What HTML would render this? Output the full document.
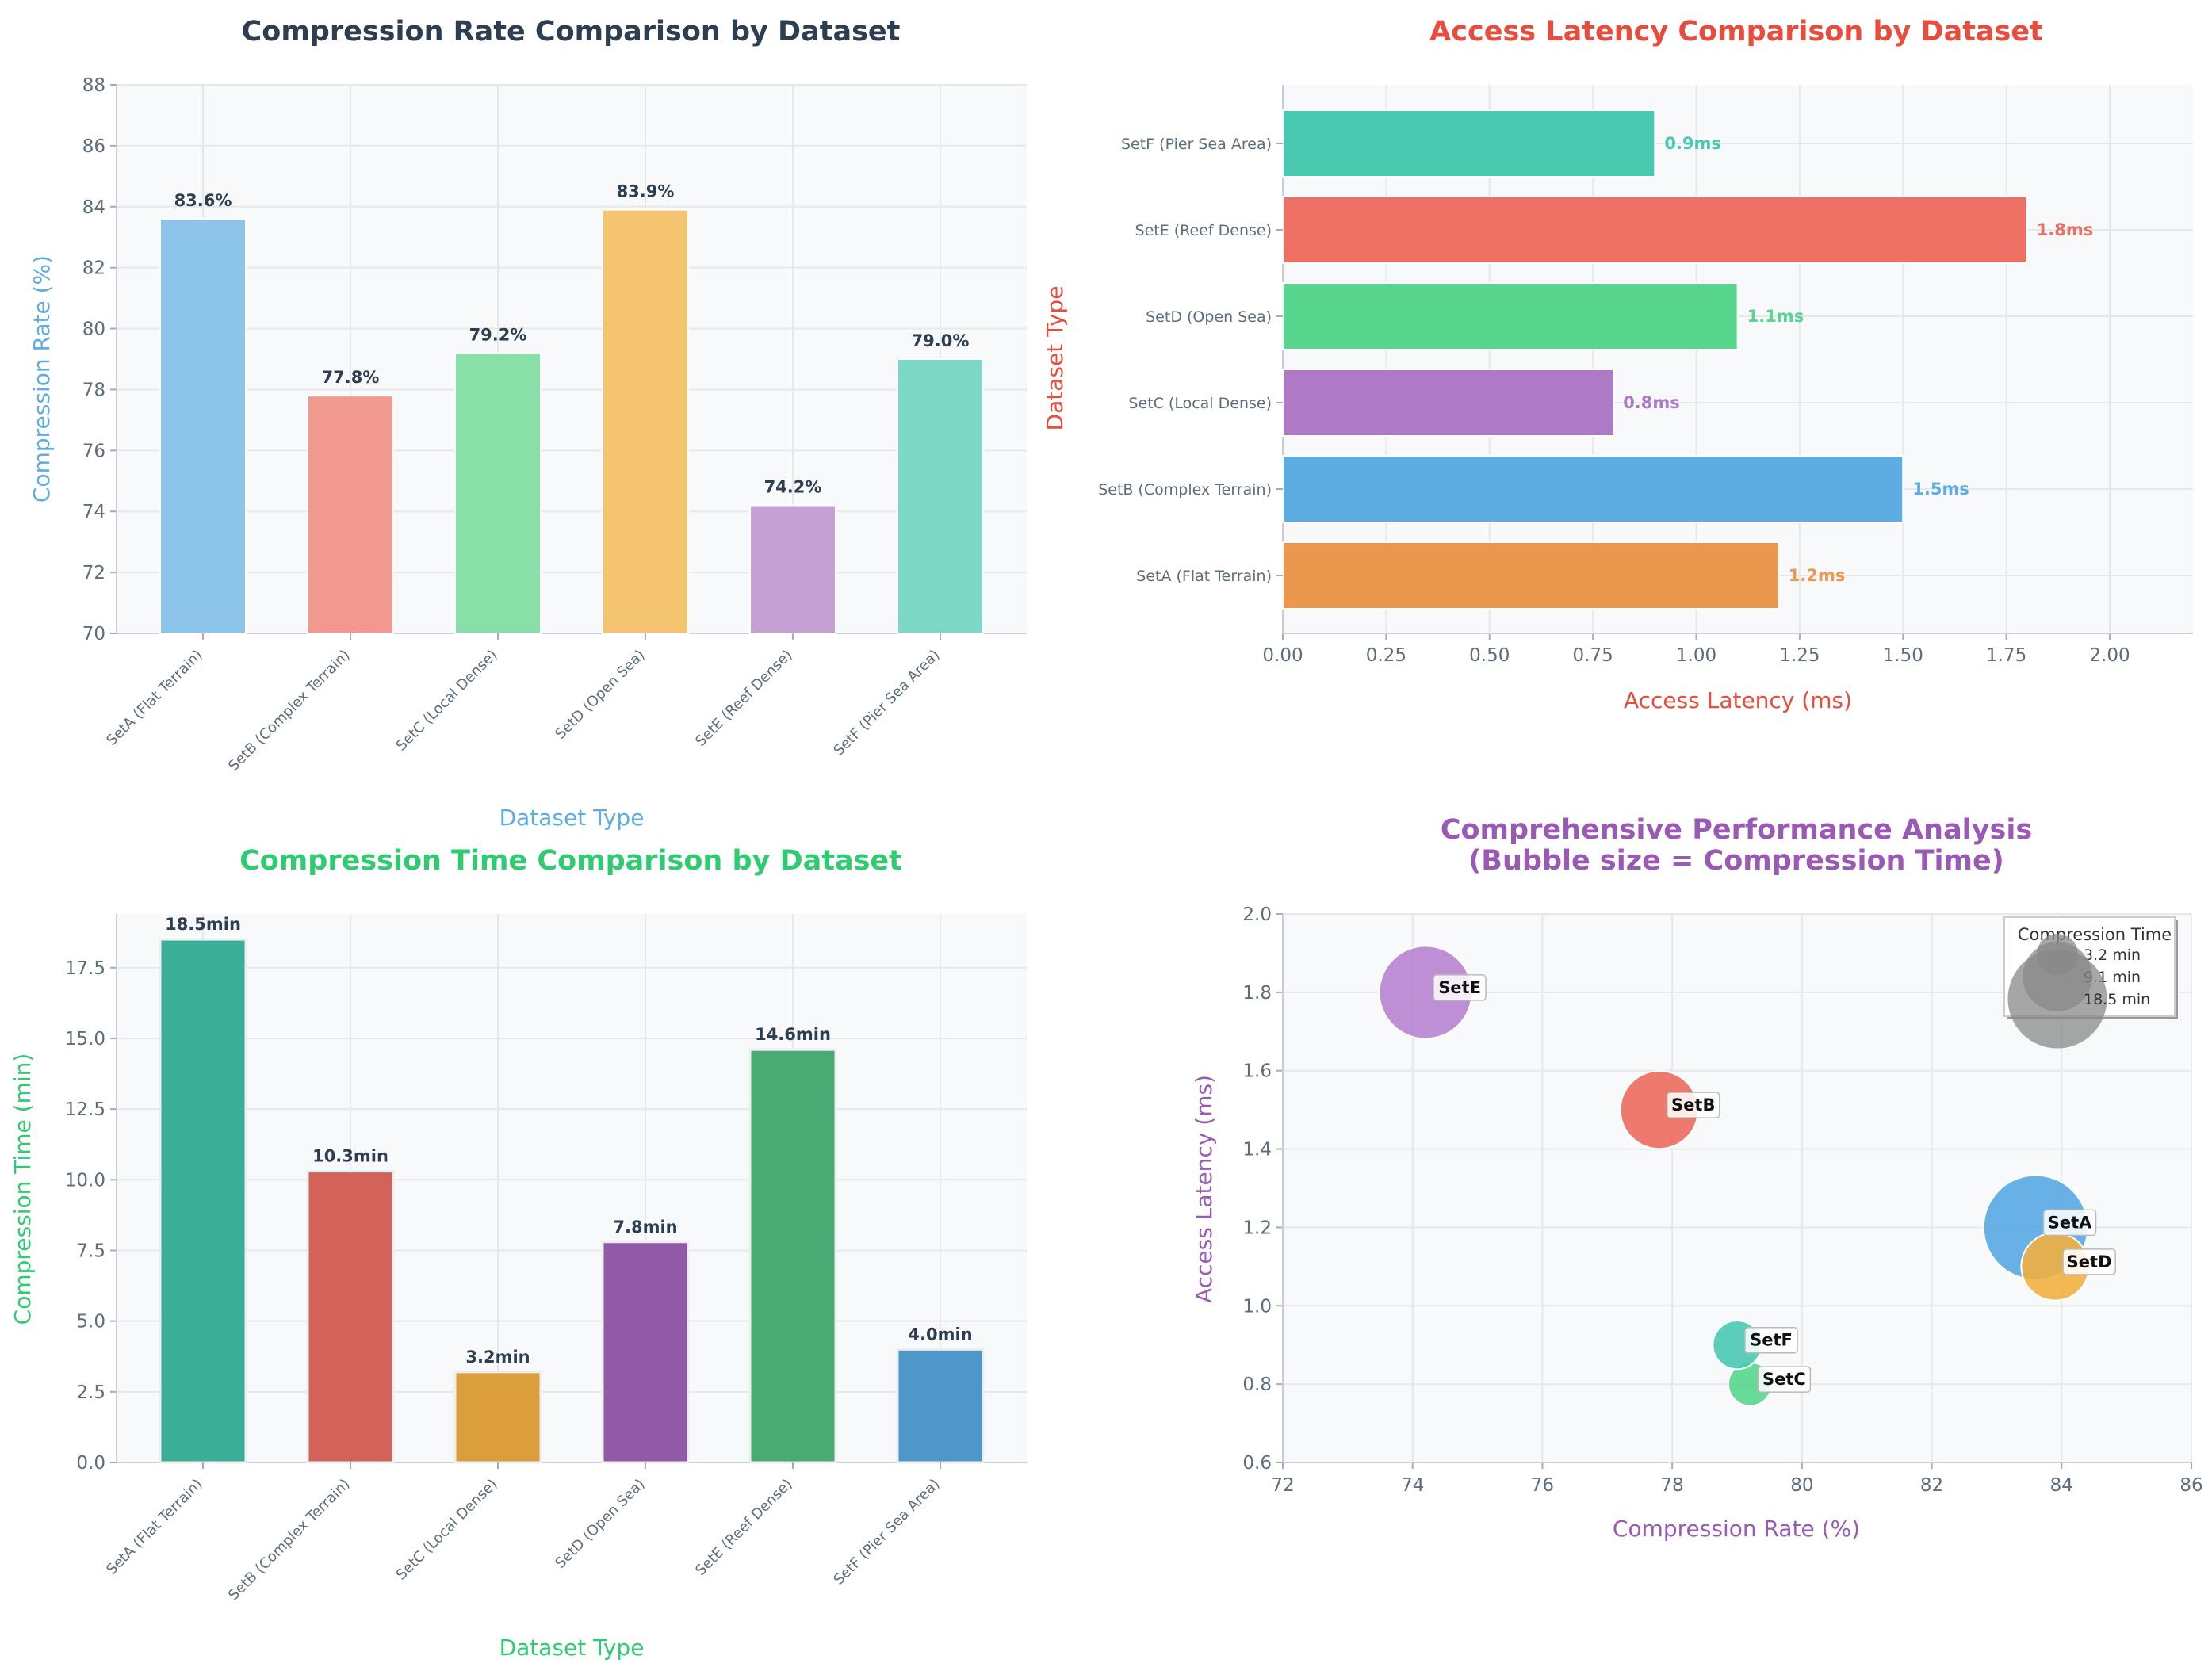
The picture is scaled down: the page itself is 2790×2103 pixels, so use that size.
<!DOCTYPE html>
<html><head><meta charset="utf-8">
<style>
html,body{margin:0;padding:0;background:#fff;}
svg{display:block;font-family:"DejaVu Sans","Liberation Sans",sans-serif;}
</style></head>
<body>
<svg id="fig" width="2790" height="2103" viewBox="0 0 2790 2103" xmlns="http://www.w3.org/2000/svg"></svg>
<script>
// ---- data ----
const categories = ["SetA (Flat Terrain)","SetB (Complex Terrain)","SetC (Local Dense)","SetD (Open Sea)","SetE (Reef Dense)","SetF (Pier Sea Area)"];
const shortNames = ["SetA","SetB","SetC","SetD","SetE","SetF"];
const compressionRate = [83.6, 77.8, 79.2, 83.9, 74.2, 79.0];
const accessLatency = [1.2, 1.5, 0.8, 1.1, 1.8, 0.9];
const compressionTime = [18.5, 10.3, 3.2, 7.8, 14.6, 4.0];
const rateTicks = [70,72,74,76,78,80,82,84,86,88];
const latencyTicks = [0,0.25,0.5,0.75,1.0,1.25,1.5,1.75,2.0];
const timeTicks = [0,2.5,5,7.5,10,12.5,15,17.5];
const scatterXTicks = [72,74,76,78,80,82,84,86];
const scatterYTicks = [0.6,0.8,1.0,1.2,1.4,1.6,1.8,2.0];
const legendTimes = [3.2, 9.1, 18.5];

const colRate = ["#8cc4ea","#f1998f","#88e0a8","#f5c471","#c5a0d5","#7dd8c5"];
const colLat = ["#eb984e","#5dade2","#af7ac5","#58d68d","#ec7063","#48c9b0"];
const colTime = ["#3aae96","#d3625a","#dc9e3a","#9259a8","#4aaa73","#4f97c9"];
const colBub = ["#56a8e3","#ec6a5c","#58d68d","#f0b040","#b783cf","#48c9b0"];

const svg = document.getElementById('fig');
const NS = "http://www.w3.org/2000/svg";
function el(tag, attrs, parent, text){
  const e = document.createElementNS(NS, tag);
  for (const k in attrs) e.setAttribute(k, attrs[k]);
  if (text !== undefined) e.textContent = text;
  (parent||svg).appendChild(e);
  return e;
}
const TICK = "#5d6d7e";
const catX = i => 256 + 186*i;

// ===== Chart 1: Compression Rate =====
(function(){
  const g = el('g', {});  
  const L=147,R=1295,T=107,B=799, ymin=70,ymax=88;
  const y = v => B - (v-ymin)/(ymax-ymin)*(B-T);
  const x = catX;
  const bg = el('rect',{x:L,y:T,width:R-L,height:B-T,fill:"#f8f9fa"},g);
   
  rateTicks.forEach(t=>{
    el('line',{x1:L,x2:R,y1:y(t),y2:y(t),stroke:"#e6e8ea","stroke-width":2},g);
    el('line',{x1:L-8,x2:L,y1:y(t),y2:y(t),stroke:"#aab",'stroke-width':2},g);
    const tl = el('text',{x:L-14,y:y(t)+8,'text-anchor':'end','font-size':23,fill:TICK},g,String(t));
     
  });
  categories.forEach((c,i)=>{
    el('line',{x1:x(i),x2:x(i),y1:T,y2:B,stroke:"#e6e8ea","stroke-width":2},g);
  });
  el('line',{x1:L,x2:L,y1:T,y2:B,stroke:"#ccd",'stroke-width':2},g);
  el('line',{x1:L,x2:R,y1:B,y2:B,stroke:"#ccd",'stroke-width':2},g);
  const bw=108;
  categories.forEach((c,i)=>{
    const b = el('rect',{x:x(i)-bw/2,y:y(compressionRate[i]),width:bw,height:B-y(compressionRate[i]),fill:colRate[i],stroke:"#fff","stroke-width":2},g);
     
    const v = el('text',{x:x(i),y:y(compressionRate[i])-16,'text-anchor':'middle','font-size':21,'font-weight':'bold',fill:"#2c3e50"},g,compressionRate[i].toFixed(1)+'%');
     
    el('line',{x1:x(i),x2:x(i),y1:B,y2:B+8,stroke:"#aab",'stroke-width':2},g);
    const tl = el('text',{x:x(i),y:B+28,'text-anchor':'end','font-size':18,fill:TICK,transform:`rotate(-45 ${x(i)} ${B+28})`},g,c);
     
  });
  const t = el('text',{x:720,y:51,'text-anchor':'middle','font-size':35,'font-weight':'bold',fill:"#2c3e50"},g,"Compression Rate Comparison by Dataset");
   
  const yl = el('text',{x:62,y:(T+B)/2+25,'text-anchor':'middle','font-size':28,fill:"#5dade2",transform:`rotate(-90 62 ${(T+B)/2+25})`},g,"Compression Rate (%)");
   
  const xl = el('text',{x:721,y:1041,'text-anchor':'middle','font-size':28,fill:"#5dade2"},g,"Dataset Type");
   
})();

// ===== Chart 2: Access Latency (horizontal) =====
(function(){
  const g = el('g', {});  
  const L=1618,R=2766,T=107,B=799, xmax=2.0;
  const x = v => L + v/xmax*(2661-L);
  const order=[5,4,3,2,1,0]; // top to bottom: SetF ... SetA
  const yc = k => 181 + 109*k;
  const bg = el('rect',{x:L,y:T,width:R-L,height:B-T,fill:"#f8f9fa"},g);
   
  latencyTicks.forEach(t=>{
    el('line',{x1:x(t),x2:x(t),y1:T,y2:B,stroke:"#e6e8ea","stroke-width":2},g);
    el('line',{x1:x(t),x2:x(t),y1:B,y2:B+8,stroke:"#aab",'stroke-width':2},g);
    const tl = el('text',{x:x(t),y:B+35,'text-anchor':'middle','font-size':23,fill:TICK},g,t.toFixed(2));
     
  });
  order.forEach((i,k)=>{ el('line',{x1:L,x2:R,y1:yc(k),y2:yc(k),stroke:"#e6e8ea","stroke-width":2},g); });
  el('line',{x1:L,x2:L,y1:T,y2:B,stroke:"#ccd",'stroke-width':2},g);
  el('line',{x1:L,x2:R,y1:B,y2:B,stroke:"#ccd",'stroke-width':2},g);
  const bh=84;
  order.forEach((i,k)=>{
    const b = el('rect',{x:L,y:yc(k)-bh/2,width:x(accessLatency[i])-L,height:bh,fill:colLat[i],stroke:"#fff","stroke-width":2},g);
     
    const v = el('text',{x:x(accessLatency[i])+12,y:yc(k)+7,'font-size':21,'font-weight':'bold',fill:colLat[i]},g,accessLatency[i].toFixed(1)+'ms');
     
    el('line',{x1:L-8,x2:L,y1:yc(k),y2:yc(k),stroke:"#aab",'stroke-width':2},g);
    const tl = el('text',{x:L-14,y:yc(k)+7,'text-anchor':'end','font-size':19,fill:TICK},g,categories[i]);
     
  });
  const t = el('text',{x:2190,y:51,'text-anchor':'middle','font-size':35,'font-weight':'bold',fill:"#e74c3c"},g,"Access Latency Comparison by Dataset");
   
  const yl = el('text',{x:1340,y:452,'text-anchor':'middle','font-size':28,fill:"#e74c3c",transform:`rotate(-90 1340 452)`},g,"Dataset Type");
   
  const xl = el('text',{x:2192,y:893,'text-anchor':'middle','font-size':28,fill:"#e74c3c"},g,"Access Latency (ms)");
   
})();

// ===== Chart 3: Compression Time =====
(function(){
  const g = el('g', {});  
  const L=147,R=1295,T=1153,B=1845, ymax=19.4;
  const y = v => B - v/ymax*(B-T);
  const x = catX;
  const bg = el('rect',{x:L,y:T,width:R-L,height:B-T,fill:"#f8f9fa"},g);
   
  timeTicks.forEach(t=>{
    el('line',{x1:L,x2:R,y1:y(t),y2:y(t),stroke:"#e6e8ea","stroke-width":2},g);
    el('line',{x1:L-8,x2:L,y1:y(t),y2:y(t),stroke:"#aab",'stroke-width':2},g);
    const tl = el('text',{x:L-14,y:y(t)+8,'text-anchor':'end','font-size':23,fill:TICK},g,t.toFixed(1));
     
  });
  categories.forEach((c,i)=>{ el('line',{x1:x(i),x2:x(i),y1:T,y2:B,stroke:"#e6e8ea","stroke-width":2},g); });
  el('line',{x1:L,x2:L,y1:T,y2:B,stroke:"#ccd",'stroke-width':2},g);
  el('line',{x1:L,x2:R,y1:B,y2:B,stroke:"#ccd",'stroke-width':2},g);
  const bw=108;
  categories.forEach((c,i)=>{
    const b = el('rect',{x:x(i)-bw/2,y:y(compressionTime[i]),width:bw,height:B-y(compressionTime[i]),fill:colTime[i],stroke:"#eee","stroke-width":3},g);
     
    const v = el('text',{x:x(i),y:y(compressionTime[i])-12,'text-anchor':'middle','font-size':21,'font-weight':'bold',fill:"#2c3e50"},g,compressionTime[i].toFixed(1)+'min');
     
    el('line',{x1:x(i),x2:x(i),y1:B,y2:B+8,stroke:"#aab",'stroke-width':2},g);
    const tl = el('text',{x:x(i),y:B+28,'text-anchor':'end','font-size':18,fill:TICK,transform:`rotate(-45 ${x(i)} ${B+28})`},g,c);
     
  });
  const t = el('text',{x:720,y:1097,'text-anchor':'middle','font-size':35,'font-weight':'bold',fill:"#2ecc71"},g,"Compression Time Comparison by Dataset");
   
  const yl = el('text',{x:38,y:1500,'text-anchor':'middle','font-size':28,fill:"#2ecc71",transform:`rotate(-90 38 1500)`},g,"Compression Time (min)");
   
  const xl = el('text',{x:721,y:2088,'text-anchor':'middle','font-size':28,fill:"#2ecc71"},g,"Dataset Type");
   
})();

// ===== Chart 4: Bubble =====
(function(){
  const g = el('g', {});  
  const L=1618,R=2764,T=1153,B=1845, xmin=72,xmax=86,ymin=0.6,ymax=2.0;
  const x = v => L + (v-xmin)/(xmax-xmin)*(R-L);
  const y = v => B - (v-ymin)/(ymax-ymin)*(B-T);
  const r = t => 15.3*Math.sqrt(t);
  const bg = el('rect',{x:L,y:T,width:R-L,height:B-T,fill:"#f8f9fa"},g);
   
  scatterXTicks.forEach(t=>{
    el('line',{x1:x(t),x2:x(t),y1:T,y2:B,stroke:"#e6e8ea","stroke-width":2},g);
    el('line',{x1:x(t),x2:x(t),y1:B,y2:B+8,stroke:"#aab",'stroke-width':2},g);
    const tl = el('text',{x:x(t),y:B+36,'text-anchor':'middle','font-size':23,fill:TICK},g,String(t));
     
  });
  scatterYTicks.forEach(t=>{
    el('line',{x1:L,x2:R,y1:y(t),y2:y(t),stroke:"#e6e8ea","stroke-width":2},g);
    el('line',{x1:L-8,x2:L,y1:y(t),y2:y(t),stroke:"#aab",'stroke-width':2},g);
    const tl = el('text',{x:L-14,y:y(t)+8,'text-anchor':'end','font-size':23,fill:TICK},g,t.toFixed(1));
     
  });
  el('line',{x1:L,x2:L,y1:T,y2:B,stroke:"#ccd",'stroke-width':2},g);
  el('line',{x1:L,x2:R,y1:B,y2:B,stroke:"#ccd",'stroke-width':2},g);
  shortNames.forEach((n,i)=>{
    const c = el('circle',{cx:x(compressionRate[i]),cy:y(accessLatency[i]),r:r(compressionTime[i]),fill:colBub[i],'fill-opacity':0.9,stroke:"#fff","stroke-width":2},g);
     
  });
  shortNames.forEach((n,i)=>{
    const lx = x(compressionRate[i])+10, ly = y(accessLatency[i])-22;
    const bx = el('rect',{x:lx,y:ly,width:66,height:32,rx:4,fill:"#fff",'fill-opacity':0.85,stroke:"#bbb","stroke-width":1.5},g);
     
    const tx = el('text',{x:lx+33,y:ly+23,'text-anchor':'middle','font-size':21,'font-weight':'bold',fill:"#111"},g,n);
     
  });
  // legend
  const lg = el('g',{},g);  
  el('rect',{x:2532,y:1161,width:215,height:125,fill:"#999"},lg);
  el('rect',{x:2528,y:1157,width:215,height:125,fill:"#fff",stroke:"#ccc","stroke-width":2},lg);
  el('text',{x:2642,y:1186,'text-anchor':'middle','font-size':21,fill:"#333"},lg,"Compression Time");
  const lys=[1209,1237,1265];
  legendTimes.forEach((t,k)=>{
    el('circle',{cx:2595,cy:lys[k]-5,r:r(t)*0.95,fill:"#888",'fill-opacity':0.75},lg);
    const lt = el('text',{x:2628,y:lys[k]+2,'font-size':19,fill:"#333"},lg,t.toFixed(1)+' min');
     
  });
  const t1 = el('text',{x:2190,y:1058,'text-anchor':'middle','font-size':35,'font-weight':'bold',fill:"#9b59b6"},g,"Comprehensive Performance Analysis");
   
  const t2 = el('text',{x:2190,y:1097,'text-anchor':'middle','font-size':35,'font-weight':'bold',fill:"#9b59b6"},g,"(Bubble size = Compression Time)");
   
  const yl = el('text',{x:1528,y:1500,'text-anchor':'middle','font-size':28,fill:"#9b59b6",transform:`rotate(-90 1528 1500)`},g,"Access Latency (ms)");
   
  const xl = el('text',{x:2190,y:1938,'text-anchor':'middle','font-size':28,fill:"#9b59b6"},g,"Compression Rate (%)");
   
})();
</script>
</body></html>
